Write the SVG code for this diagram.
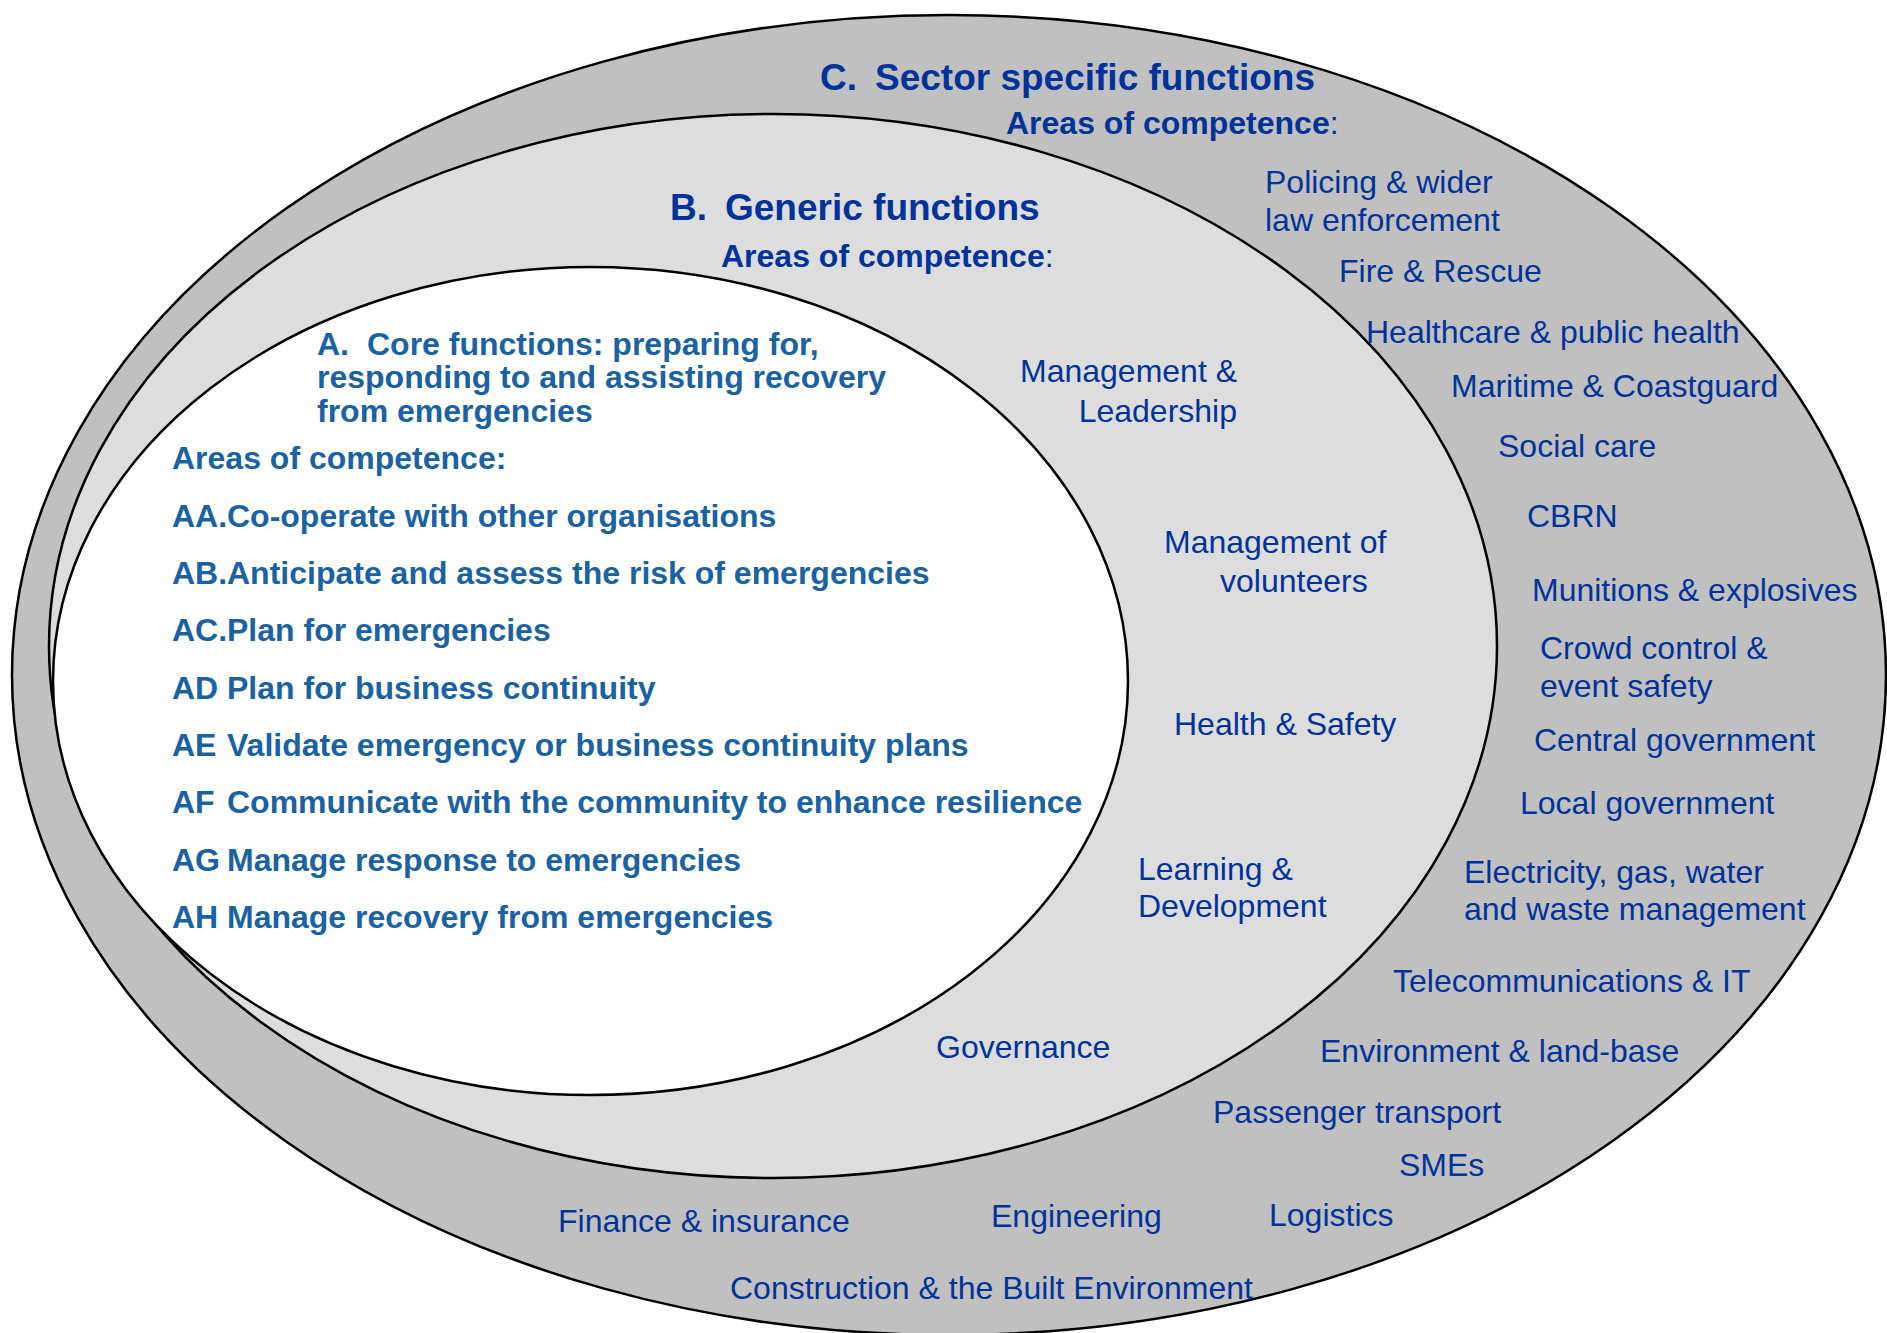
<svg xmlns="http://www.w3.org/2000/svg" width="1887" height="1333" viewBox="0 0 1887 1333">
<style>
  .ring { stroke: #000; stroke-width: 2.5; }
  .t { font-family: "Liberation Sans", Arial, Helvetica, sans-serif; }
  .title { font-size: 37px; font-weight: bold; fill: #003399; }
  .hdr { font-size: 32px; font-weight: bold; fill: #003399; }
  .item { font-size: 32px; fill: #003399; }
  .core { font-size: 32px; font-weight: bold; fill: #1a62a1; }
  .reg { font-weight: normal; }
</style>
<rect width="1887" height="1333" fill="#ffffff"/>
<g id="shapes">
  <ellipse id="ellipse-C" class="ring" cx="949" cy="675" rx="937" ry="660" fill="#c0c0c0"/>
  <ellipse id="ellipse-B" class="ring" cx="773" cy="646" rx="724" ry="532" fill="#dddddd"/>
  <ellipse id="ellipse-A" class="ring" cx="590.5" cy="681" rx="537.5" ry="414" fill="#ffffff"/>
</g>
<g id="connectors"></g>
<g id="node-C" class="t">
  <text class="title" x="820" y="90">C.</text>
  <text class="title" x="875" y="90">Sector specific functions</text>
  <text class="hdr" x="1006" y="134">Areas of competence<tspan class="reg">:</tspan></text>
  <text class="item" x="1265" y="193">Policing &amp; wider</text>
  <text class="item" x="1265" y="231">law enforcement</text>
  <text class="item" x="1339" y="282">Fire &amp; Rescue</text>
  <text class="item" x="1366" y="343">Healthcare &amp; public health</text>
  <text class="item" x="1451" y="397">Maritime &amp; Coastguard</text>
  <text class="item" x="1498" y="457">Social care</text>
  <text class="item" x="1527" y="527">CBRN</text>
  <text class="item" x="1532" y="601">Munitions &amp; explosives</text>
  <text class="item" x="1540" y="659">Crowd control &amp;</text>
  <text class="item" x="1540" y="697">event safety</text>
  <text class="item" x="1534" y="751">Central government</text>
  <text class="item" x="1520" y="814">Local government</text>
  <text class="item" x="1464" y="883">Electricity, gas, water</text>
  <text class="item" x="1464" y="920">and waste management</text>
  <text class="item" x="1393" y="992">Telecommunications &amp; IT</text>
  <text class="item" x="1320" y="1062">Environment &amp; land-base</text>
  <text class="item" x="1213" y="1123">Passenger transport</text>
  <text class="item" x="1399" y="1176">SMEs</text>
  <text class="item" x="558" y="1232">Finance &amp; insurance</text>
  <text class="item" x="991" y="1227">Engineering</text>
  <text class="item" x="1269" y="1226">Logistics</text>
  <text class="item" x="730" y="1299">Construction &amp; the Built Environment</text>
</g>
<g id="node-B" class="t">
  <text class="title" x="670" y="220">B.</text>
  <text class="title" x="725" y="220">Generic functions</text>
  <text class="hdr" x="721" y="267">Areas of competence<tspan class="reg">:</tspan></text>
  <text class="item" x="1237" y="382" text-anchor="end">Management &amp;</text>
  <text class="item" x="1237" y="422" text-anchor="end">Leadership</text>
  <text class="item" x="1164" y="553">Management of</text>
  <text class="item" x="1220" y="592">volunteers</text>
  <text class="item" x="1174" y="735">Health &amp; Safety</text>
  <text class="item" x="1138" y="880">Learning &amp;</text>
  <text class="item" x="1138" y="917">Development</text>
  <text class="item" x="936" y="1058">Governance</text>
</g>
<g id="node-A" class="t">
  <text class="core" x="317" y="355">A.</text>
  <text class="core" x="367" y="355">Core functions: preparing for,</text>
  <text class="core" x="317" y="388">responding to and assisting recovery</text>
  <text class="core" x="317" y="422">from emergencies</text>
  <text class="core" x="172" y="469">Areas of competence:</text>
  <text class="core" x="172" y="527">AA.</text><text class="core" x="227" y="527">Co-operate with other organisations</text>
  <text class="core" x="172" y="584">AB.</text><text class="core" x="227" y="584">Anticipate and assess the risk of emergencies</text>
  <text class="core" x="172" y="641">AC.</text><text class="core" x="227" y="641">Plan for emergencies</text>
  <text class="core" x="172" y="699">AD</text><text class="core" x="227" y="699">Plan for business continuity</text>
  <text class="core" x="172" y="756">AE</text><text class="core" x="227" y="756">Validate emergency or business continuity plans</text>
  <text class="core" x="172" y="813">AF</text><text class="core" x="227" y="813">Communicate with the community to enhance resilience</text>
  <text class="core" x="172" y="871">AG</text><text class="core" x="227" y="871">Manage response to emergencies</text>
  <text class="core" x="172" y="928">AH</text><text class="core" x="227" y="928">Manage recovery from emergencies</text>
</g>
</svg>
